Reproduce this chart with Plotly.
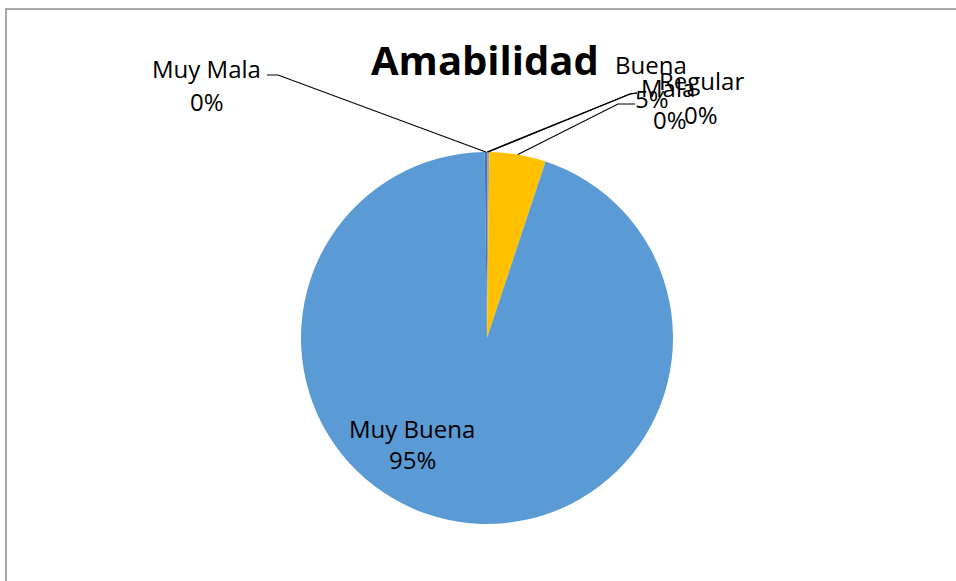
import math
import plotly.graph_objects as go

# ---- data ----
labels = ["Mala", "Regular", "Buena", "Muy Buena", "Muy Mala"]
values = [0.0, 0.2, 4.9, 94.7, 0.2]
colors = ["#ED7D31", "#A5A5A5", "#FFC000", "#5B9BD5", "#4472C4"]
title_text = "Amabilidad"

# ---- layout constants (pixels) ----
W, H = 956, 581
CX, CY, R = 487, 338, 186
FONT = "Open Sans"
FS = 24

def px(x):
    return x / W

def py(y):
    return 1 - y / H

total = sum(values)
pcts = [v / total * 100 for v in values]

fig = go.Figure(go.Pie(
    labels=labels, values=values, sort=False, direction="clockwise", rotation=0,
    marker=dict(colors=colors, line=dict(width=0)),
    textinfo="none", hoverinfo="label+percent", showlegend=False,
    domain=dict(x=[px(CX - R), px(CX + R)], y=[py(CY + R), py(CY - R)]),
))

# label positions: (name center, percent center, elbow, line end)
label_pos = {
    "Muy Mala": ((206, 68), (207, 101), (278, 75), (267, 75)),
    "Mala": ((668, 87), (670, 120), (630, 94), (637, 93)),
    "Regular": ((701, 80), (701, 114), (630, 94), (637, 93)),
    "Buena": ((651, 65), (652, 98), (618, 104), (635, 104)),
    "Muy Buena": ((412, 428), (412, 460), None, None),
}

annotations = []
shapes = []
cum = 0.0
for lab, v, p in zip(labels, values, pcts):
    mid = 2 * math.pi * (cum + v / 2) / total
    cum += v
    (nx, ny), (qx, qy), elbow, end = label_pos[lab]
    annotations.append(dict(x=px(nx), y=py(ny), xref="paper", yref="paper",
                            text=lab, showarrow=False, xanchor="center", yanchor="middle",
                            font=dict(family=FONT, size=FS, color="#000000")))
    annotations.append(dict(x=px(qx), y=py(qy), xref="paper", yref="paper",
                            text=f"{p:.0f}%", showarrow=False, xanchor="center", yanchor="middle",
                            font=dict(family=FONT, size=FS, color="#000000")))
    if elbow is not None:
        sx = CX + R * math.sin(mid)
        sy = CY - R * math.cos(mid)
        path = f"M {px(sx)},{py(sy)} L {px(elbow[0])},{py(elbow[1])} L {px(end[0])},{py(end[1])}"
        shapes.append(dict(type="path", path=path, xref="paper", yref="paper",
                           line=dict(color="#000000", width=1.2)))

annotations.append(dict(x=px(485), y=py(59), xref="paper", yref="paper", text=f"<b>{title_text}</b>",
                        showarrow=False, xanchor="center", yanchor="middle",
                        font=dict(family=FONT, size=40, color="#000000")))

# chart area border
shapes.append(dict(type="rect", xref="paper", yref="paper", x0=px(6), y0=-0.1, x1=1.1, y1=py(9),
                   line=dict(color="#8C8C8C", width=1.5), fillcolor="rgba(0,0,0,0)"))

fig.update_layout(
    width=W, height=H, margin=dict(l=0, r=0, t=0, b=0),
    paper_bgcolor="#FFFFFF", plot_bgcolor="#FFFFFF",
    annotations=annotations, shapes=shapes,
)

fig.write_html("out.html", config={"displayModeBar": False},
               post_script="document.body.style.margin='0px';")
